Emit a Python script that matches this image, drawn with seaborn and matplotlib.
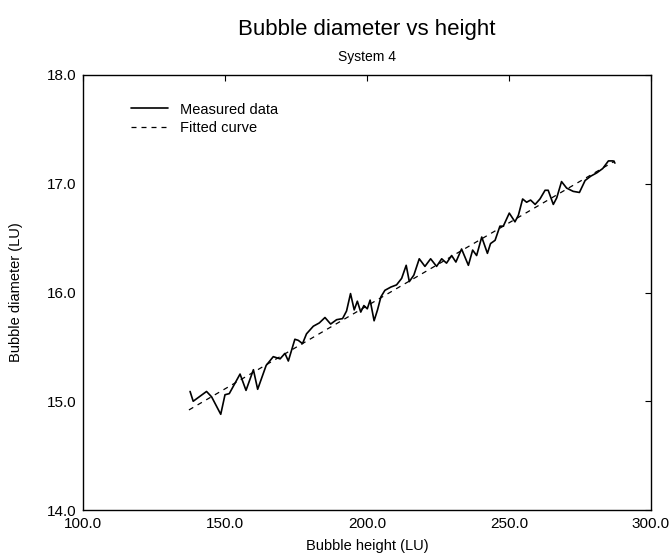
import matplotlib
matplotlib.use("Agg")
import matplotlib.pyplot as plt
import seaborn as sns
import pandas as pd

height = [137.7, 138.8, 143.5, 145.3, 148.5, 150.0, 151.5, 155.3, 157.4, 160.0,
          161.5, 164.5, 167.0, 169.4, 171.1, 172.3, 174.6, 175.8, 177.3, 178.7,
          181.1, 183.2, 185.2, 187.2, 189.3, 191.4, 192.8, 194.2, 195.5, 196.6,
          197.8, 198.9, 200.1, 201.1, 202.5, 203.7, 204.9, 206.3, 208.4, 210.4,
          212.2, 213.8, 214.9, 216.5, 218.4, 220.4, 222.4, 224.5, 226.3, 228.0,
          229.8, 231.3, 233.3, 235.7, 237.2, 238.6, 240.4, 242.4, 243.5, 245.1,
          246.8, 248.0, 250.1, 252.1, 253.3, 254.8, 256.2, 257.6, 259.2, 260.9,
          262.7, 263.8, 265.6, 266.8, 268.5, 270.3, 272.6, 274.8, 276.8, 278.8,
          280.9, 283.0, 285.0, 286.7, 287.3]
diameter = [15.09, 15.00, 15.09, 15.04, 14.88, 15.06, 15.07, 15.25, 15.10, 15.29,
            15.11, 15.33, 15.41, 15.39, 15.44, 15.37, 15.57, 15.56, 15.53, 15.62,
            15.69, 15.72, 15.77, 15.71, 15.75, 15.76, 15.83, 15.99, 15.84, 15.92,
            15.82, 15.88, 15.85, 15.93, 15.74, 15.84, 15.96, 16.02, 16.05, 16.07,
            16.13, 16.25, 16.10, 16.16, 16.31, 16.24, 16.31, 16.24, 16.31, 16.27,
            16.34, 16.28, 16.40, 16.25, 16.39, 16.34, 16.51, 16.36, 16.45, 16.48,
            16.61, 16.61, 16.73, 16.65, 16.71, 16.86, 16.83, 16.85, 16.81, 16.86,
            16.94, 16.94, 16.81, 16.87, 17.02, 16.96, 16.93, 16.92, 17.03, 17.07,
            17.10, 17.14, 17.21, 17.21, 17.19]
fit_height = [137.3, 287.3]
fit_diameter = [14.92, 17.21]

xticks = [100, 150, 200, 250, 300]
yticks = [14, 15, 16, 17, 18]

sns.set_style("white")
plt.rcParams['font.family'] = ['Liberation Sans', 'DejaVu Sans']
plt.rcParams['text.color'] = 'black'
plt.rcParams['axes.labelcolor'] = 'black'
plt.rcParams['xtick.color'] = 'black'
plt.rcParams['ytick.color'] = 'black'

fig = plt.figure(figsize=(6.72, 5.54), dpi=100)
ax = fig.add_axes([83/672, 1-510/554, (651-83)/672, (510-75)/554])

meas = pd.DataFrame({"h": height, "d": diameter})
fit = pd.DataFrame({"h": fit_height, "d": fit_diameter})

sns.lineplot(data=meas, x="h", y="d", ax=ax, color="black", linewidth=1.2,
             sort=False, label="Measured data")
sns.lineplot(data=fit, x="h", y="d", ax=ax, color="black", linewidth=0.9,
             dashes=False, label="Fitted curve")
ax.lines[1].set_dashes([4, 4])

ax.set_xlim(100, 300)
ax.set_ylim(14, 18)
ax.set_xticks(xticks)
ax.set_yticks(yticks)
ax.set_xticklabels([f"{v:.1f}" for v in xticks], fontsize=11)
ax.set_yticklabels([f"{v:.1f}" for v in yticks], fontsize=11)
ax.tick_params(direction="in", length=4, top=True, right=True, width=0.8, pad=5)
for s in ax.spines.values():
    s.set_color("black")
    s.set_linewidth(1.0)

ax.set_xlabel("Bubble height (LU)", fontsize=10.5, labelpad=6)
ax.set_ylabel("Bubble diameter (LU)", fontsize=10.5, labelpad=17)

fig.text(367/672, 1-30/554, "Bubble diameter vs height", ha="center", va="center", fontsize=16)
fig.text(367/672, 1-57/554, "System 4", ha="center", va="center", fontsize=10)

leg = ax.legend(loc="upper left", bbox_to_anchor=(0.075, 0.95), frameon=False,
                fontsize=10.5, handlelength=2.5, borderaxespad=0, labelspacing=0.3)

fig.savefig("out.png", dpi=100)
